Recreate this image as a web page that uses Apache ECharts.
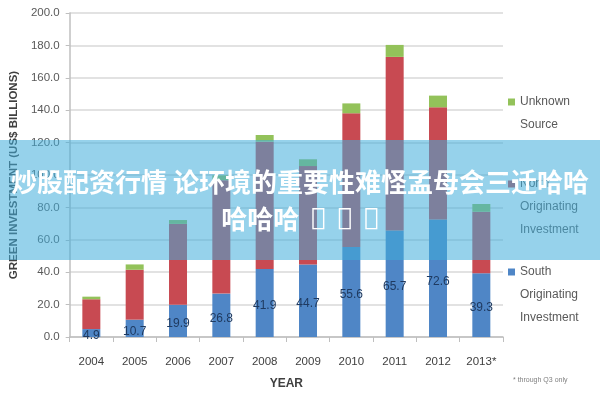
<!DOCTYPE html>
<html>
<head>
<meta charset="utf-8">
<style>html,body{margin:0;padding:0;background:#fff}#c{width:600px;height:400px}</style>
<script src="https://cdn.jsdelivr.net/npm/echarts@6/dist/echarts.min.js"></script>
</head>
<body>
<div id="c"></div>
<script>
var years = ['2004','2005','2006','2007','2008','2009','2010','2011','2012','2013*'];
var southValues = [4.9, 10.7, 19.9, 26.8, 41.9, 44.7, 55.6, 65.7, 72.6, 39.3];
var northValues = [18.4, 30.8, 49.9, 70.0, 78.7, 60.8, 82.5, 107.2, 69.2, 38.0];
var unknownValues = [1.6, 3.3, 2.4, 3.0, 4.1, 4.2, 6.1, 7.4, 7.2, 4.8];
var yTicks = [0, 20, 40, 60, 80, 100, 120, 140, 160, 180, 200];
var bannerLine1 = '炒股配资行情 论环境的重要性难怪孟母会三迁哈哈';
var bannerLine2a = '哈哈哈';
var bannerLine2Box = '\uE000';

var FONT = 'Liberation Sans, Arial, sans-serif';
var chart = echarts.init(document.getElementById('c'));

function legendItem(name, iconY) {
  var lh = 23;
  var words = name.split(' ');
  var pad = [];
  for (var i = 1; i < words.length; i++) pad.push(' ');
  var total = pad.length + words.length;
  return {
    data: [name], orient: 'vertical', left: 508, top: iconY - total * lh / 2,
    itemWidth: 7, itemHeight: 7, icon: 'rect', selectedMode: false,
    padding: 0,
    formatter: function (n) { return pad.concat(n.split(' ')).join('\n'); },
    textStyle: { color: '#595959', fontSize: 12, fontFamily: FONT, lineHeight: lh }
  };
}

var line2 = '{a|' + bannerLine2a + '}{s| }{b|' + bannerLine2Box + '}{s| }{b|' + bannerLine2Box + '}{s| }{b|' + bannerLine2Box + '}';

chart.setOption({
  animation: false,
  grid: { left: 58, right: 97, top: 13, bottom: 63 },
  legend: [
    legendItem('Unknown Source', 102),
    legendItem('North Originating Investment', 184),
    legendItem('South Originating Investment', 272)
  ],
  xAxis: {
    type: 'category', data: years,
    name: 'YEAR', nameLocation: 'middle', nameGap: 41,
    nameTextStyle: { color: '#404040', fontSize: 12, fontWeight: 'bold', fontFamily: FONT },
    axisLine: { lineStyle: { color: '#bfbfbf', width: 1.5 } },
    axisTick: { show: true, length: 5, lineStyle: { color: '#bfbfbf' } },
    axisLabel: { color: '#404040', fontSize: 11.5, margin: 19, fontFamily: FONT }
  },
  yAxis: {
    type: 'value', min: yTicks[0], max: yTicks[yTicks.length - 1], interval: 20,
    name: 'GREEN INVESTMENT (US$ BILLIONS)', nameLocation: 'middle', nameGap: 40, nameRotate: 90,
    nameTextStyle: { color: '#404040', fontSize: 11.5, fontWeight: 'bold', fontFamily: FONT },
    axisLine: { show: true, lineStyle: { color: '#bfbfbf', width: 1.5 } },
    axisTick: { show: true, length: 4, lineStyle: { color: '#bfbfbf' } },
    splitLine: { lineStyle: { color: '#d9d9d9', width: 1.5 } },
    axisLabel: { color: '#595959', fontSize: 11.5, margin: 10, fontFamily: FONT,
                 formatter: function (v) { return v.toFixed(1); } }
  },
  series: [
    { name: 'South Originating Investment', type: 'bar', stack: 'a', barWidth: 18,
      data: southValues, itemStyle: { color: '#4f86c6' },
      label: { show: true, position: 'inside', offset: [0, 3], color: '#1f3a60', fontSize: 12, fontFamily: FONT,
               formatter: function (p) { return p.value.toFixed(1); } } },
    { name: 'North Originating Investment', type: 'bar', stack: 'a', barWidth: 18,
      data: northValues, itemStyle: { color: '#c84a52' } },
    { name: 'Unknown Source', type: 'bar', stack: 'a', barWidth: 18,
      data: unknownValues, itemStyle: { color: '#93c25a' } }
  ],
  graphic: [
    { type: 'text', left: 513, top: 377, z: 50,
      style: { text: '* through Q3 only', fill: '#7f7f7f', fontSize: 7, fontFamily: FONT } },
    { type: 'rect', left: 0, top: 140, z: 100,
      shape: { width: 600, height: 120 },
      style: { fill: 'rgba(64,173,218,0.55)' } },
    { type: 'text', x: 300, y: 182, z: 101,
      style: { text: bannerLine1, fill: '#ffffff', fontSize: 26, fontWeight: 'bold',
               fontFamily: 'Noto Sans CJK SC', align: 'center', verticalAlign: 'middle' } },
    { type: 'text', x: 300, y: 219, z: 101,
      style: { text: line2, align: 'center', verticalAlign: 'middle',
               rich: {
                 a: { fill: '#ffffff', fontSize: 26, fontWeight: 'bold', fontFamily: 'Noto Sans CJK SC', lineHeight: 30 },
                 s: { fill: '#ffffff', fontSize: 38, fontFamily: 'DejaVu Sans', lineHeight: 30 },
                 b: { fill: '#ffffff', fontSize: 24, fontFamily: 'DejaVu Sans', lineHeight: 30 }
               } } }
  ]
});
</script>
</body>
</html>
